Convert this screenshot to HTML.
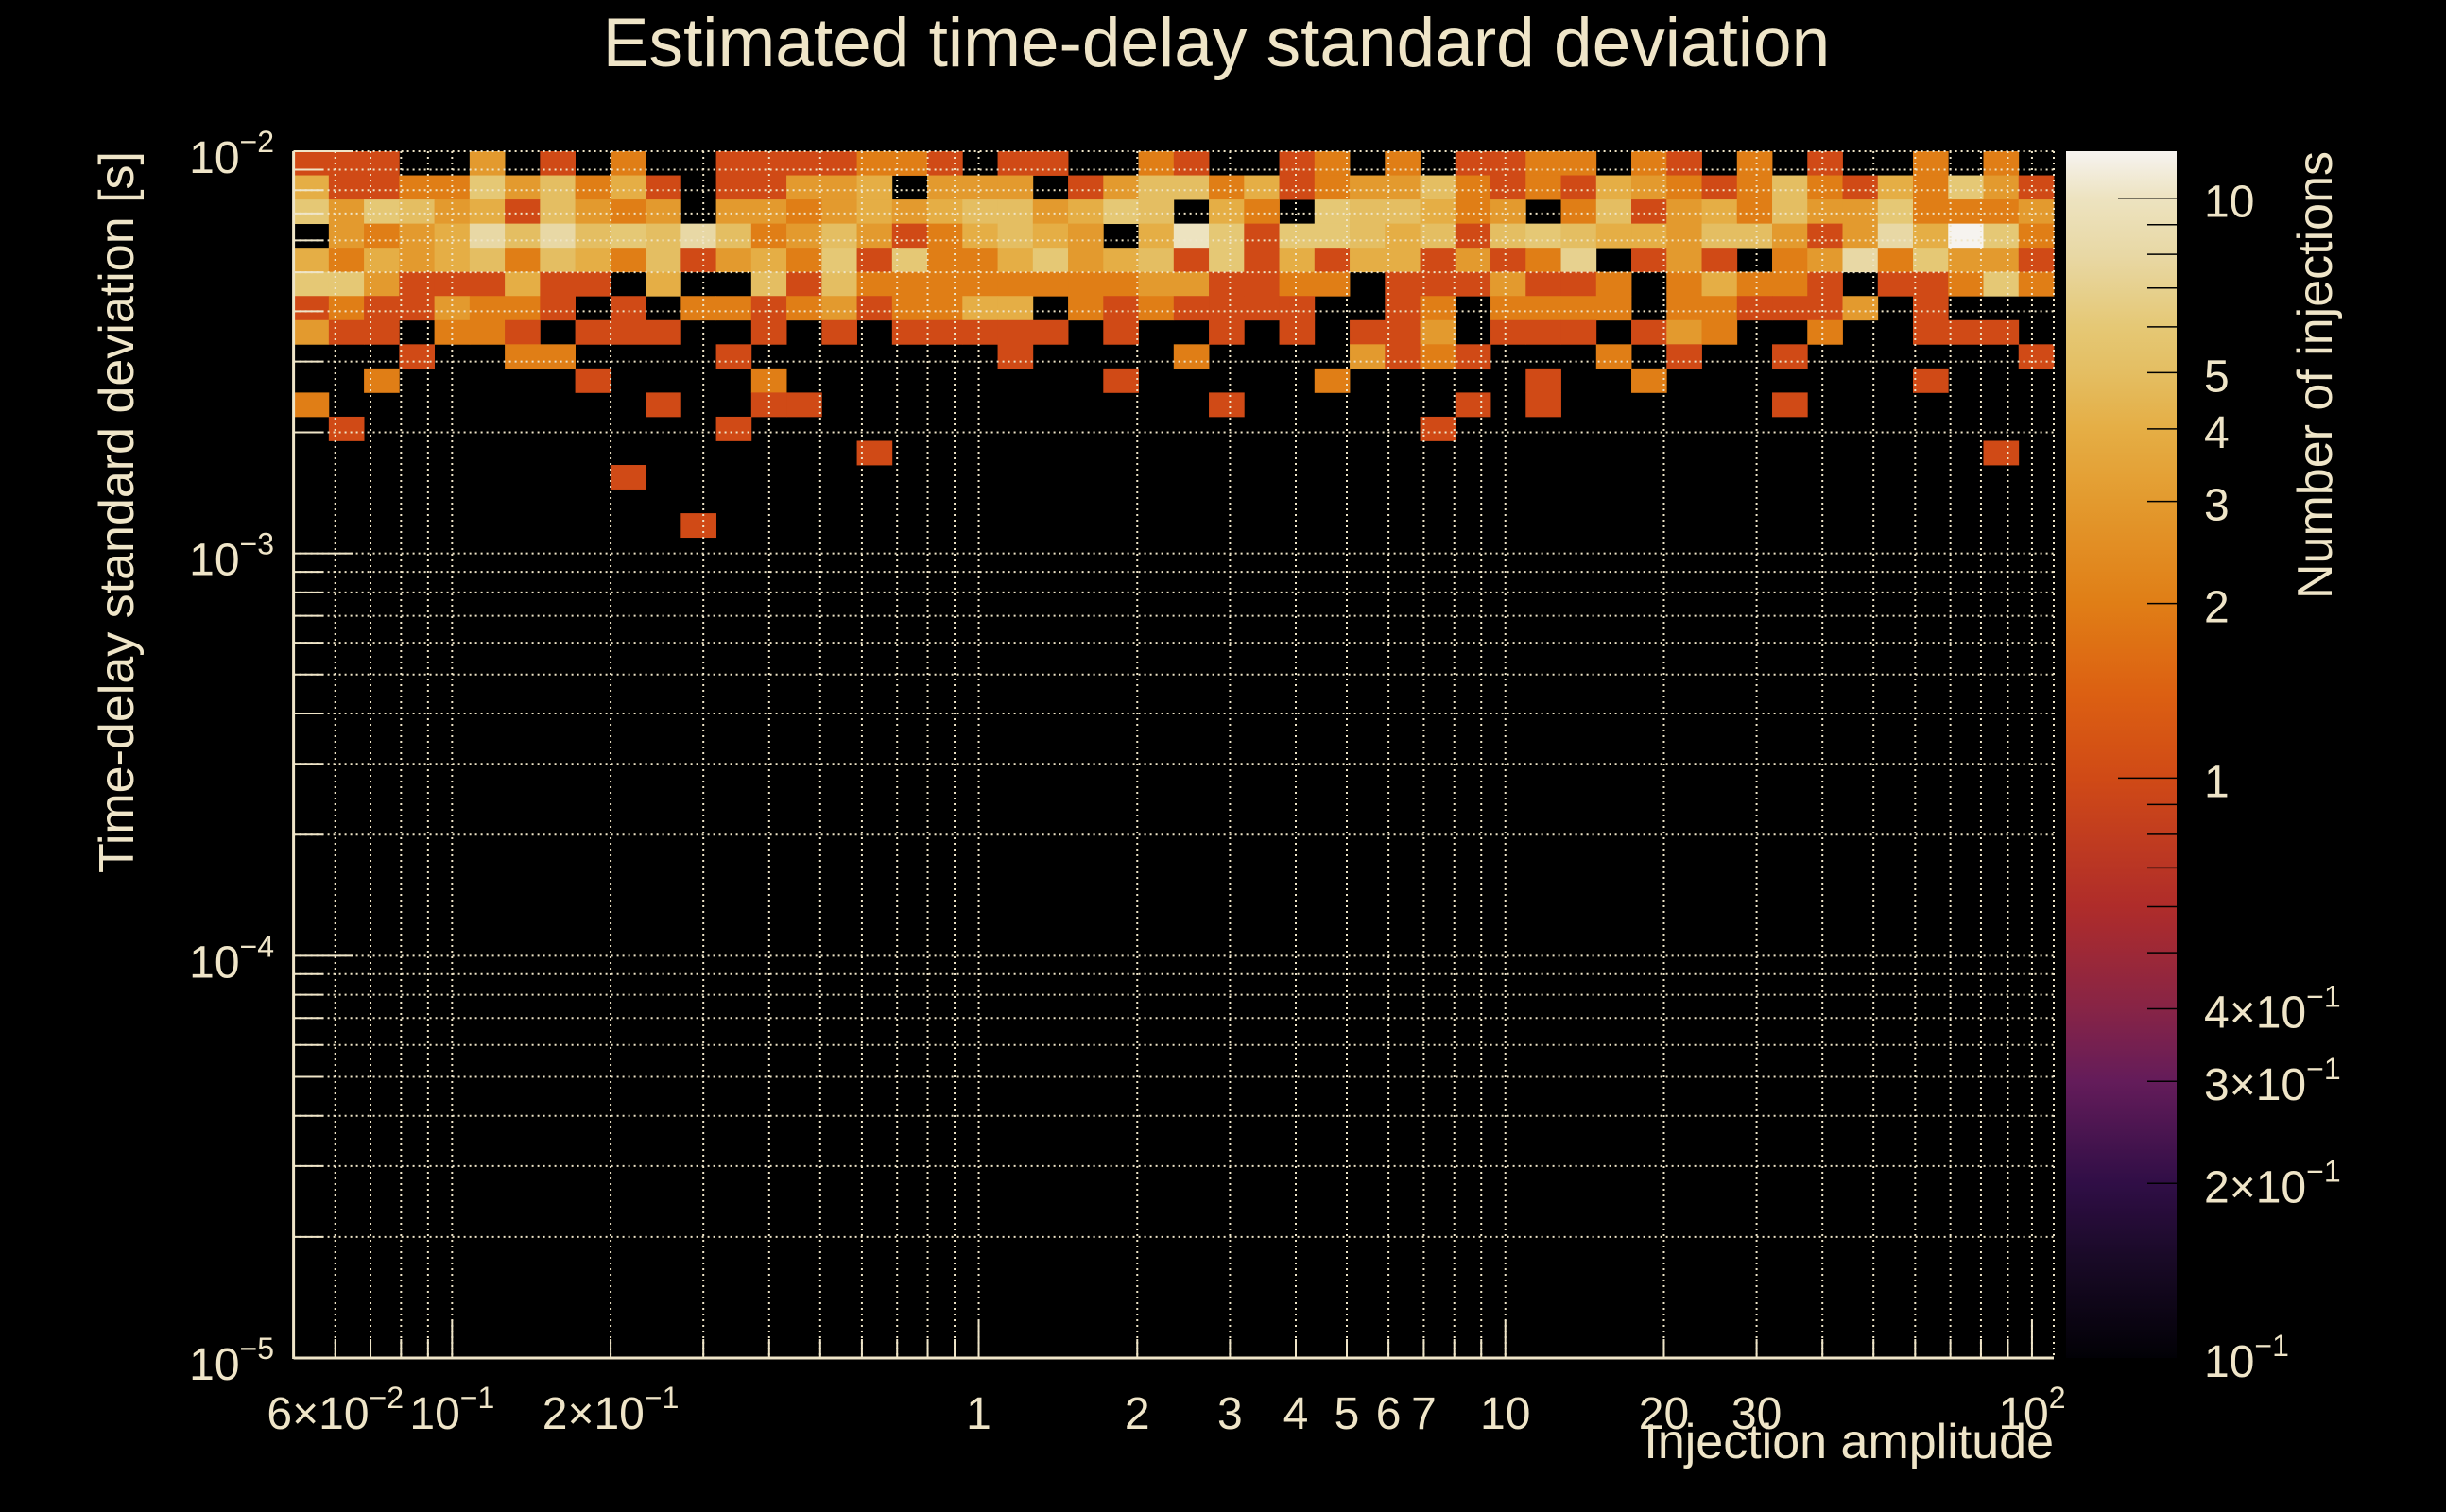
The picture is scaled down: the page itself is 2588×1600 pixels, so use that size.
<!DOCTYPE html>
<html><head><meta charset="utf-8">
<style>
html,body{margin:0;padding:0;background:#000;}
svg{display:block;}
text{font-family:"Liberation Sans",sans-serif;fill:#efe5c8;}
</style></head>
<body>
<svg id="chart" width="2588" height="1600" viewBox="0 0 2588 1600" xmlns="http://www.w3.org/2000/svg">
<rect x="0" y="0" width="2588" height="1600" fill="#000"/>
<text x="1287" y="70" font-size="73" text-anchor="middle">Estimated time-delay standard deviation</text>
<text transform="translate(141,160) rotate(-90)" font-size="52" text-anchor="end">Time-delay standard deviation [s]</text>
<text x="2173" y="1543" font-size="52" text-anchor="end">Injection amplitude</text>
<text transform="translate(2467,160) rotate(-90)" font-size="52" text-anchor="end">Number of injections</text>
<g id="cells"></g>
<g id="grid"></g>
<g id="axes"></g>
<g id="cbar"></g>
</svg>
<script>
// ---- data ----
const xRange = [0.05, 110];      // injection amplitude (log axis)
const yRange = [1e-5, 1e-2];     // time-delay std (log axis)
const zRange = [0.1, 12.05];     // colour scale
const nXBins = 50;
const nYBins = 50;
// rows listed from the top-most y bin downward (row 0 = highest bin)
const row0  = [1,1,1,0,0,3,0,1,0,2,0,0,1,1,1,1,2,2,1,0,1,1,0,0,2,1,0,0,1,2,0,2,0,1,1,2,2,0,2,1,0,2,0,1,0,0,2,0,2,0];
const row1  = [4,1,1,2,2,6,3,5,2,4,1,0,1,1,3,3,4,0,3,3,3,0,1,3,5,5,2,4,1,2,3,3,5,2,1,2,1,4,3,2,1,2,5,2,1,4,2,6,3,1];
const row2  = [6,3,6,5,3,4,1,5,3,2,3,0,3,3,2,3,4,3,4,5,5,3,4,6,5,0,4,2,0,6,5,5,4,2,3,0,2,5,1,3,4,2,5,3,3,6,2,2,2,3];
const row3  = [0,3,2,3,4,8,5,8,5,6,5,8,5,2,3,5,3,1,2,4,5,4,3,0,4,10,6,1,6,6,5,4,5,1,5,6,5,4,4,3,5,5,3,1,3,8,4,12,6,2];
const row4  = [4,2,4,3,4,5,2,5,4,2,5,1,3,4,2,6,1,6,2,2,4,6,3,4,5,1,6,1,4,1,4,4,1,3,1,2,7,0,1,3,1,0,2,3,8,2,6,3,3,1];
const row5  = [6,6,3,1,1,1,4,1,1,0,4,0,0,5,1,5,2,2,2,2,2,2,2,2,3,3,1,1,2,2,0,1,1,1,3,1,1,2,0,2,4,2,2,1,0,1,1,2,6,2];
const row6  = [1,2,1,1,3,2,2,1,0,1,0,2,2,1,2,3,1,2,2,4,4,0,2,1,2,1,1,1,1,0,0,1,2,0,2,2,2,2,0,2,2,1,1,1,3,0,1,0,0,0];
const row7  = [3,1,1,0,2,2,1,0,1,1,1,0,0,1,0,1,0,1,1,1,1,1,0,1,0,0,1,0,1,0,1,1,3,0,1,1,1,0,1,3,2,0,0,2,0,0,1,1,1,0];
const row8  = [0,0,0,1,0,0,2,2,0,0,0,0,1,0,0,0,0,0,0,0,1,0,0,0,0,2,0,0,0,0,3,1,2,1,0,0,0,2,0,1,0,0,1,0,0,0,0,0,0,1];
const row9  = [0,0,2,0,0,0,0,0,1,0,0,0,0,2,0,0,0,0,0,0,0,0,0,1,0,0,0,0,0,2,0,0,0,0,0,1,0,0,2,0,0,0,0,0,0,0,1,0,0,0];
const row10 = [2,0,0,0,0,0,0,0,0,0,1,0,0,1,1,0,0,0,0,0,0,0,0,0,0,0,1,0,0,0,0,0,0,1,0,1,0,0,0,0,0,0,1,0,0,0,0,0,0,0];
const row11 = [0,1,0,0,0,0,0,0,0,0,0,0,1,0,0,0,0,0,0,0,0,0,0,0,0,0,0,0,0,0,0,0,1,0,0,0,0,0,0,0,0,0,0,0,0,0,0,0,0,0];
const row12 = [0,0,0,0,0,0,0,0,0,0,0,0,0,0,0,0,1,0,0,0,0,0,0,0,0,0,0,0,0,0,0,0,0,0,0,0,0,0,0,0,0,0,0,0,0,0,0,0,1,0];
const row13 = [0,0,0,0,0,0,0,0,0,1,0,0,0,0,0,0,0,0,0,0,0,0,0,0,0,0,0,0,0,0,0,0,0,0,0,0,0,0,0,0,0,0,0,0,0,0,0,0,0,0];
const row14 = [0,0,0,0,0,0,0,0,0,0,0,0,0,0,0,0,0,0,0,0,0,0,0,0,0,0,0,0,0,0,0,0,0,0,0,0,0,0,0,0,0,0,0,0,0,0,0,0,0,0];
const row15 = [0,0,0,0,0,0,0,0,0,0,0,1,0,0,0,0,0,0,0,0,0,0,0,0,0,0,0,0,0,0,0,0,0,0,0,0,0,0,0,0,0,0,0,0,0,0,0,0,0,0];
const rows = [row0,row1,row2,row3,row4,row5,row6,row7,row8,row9,row10,row11,row12,row13,row14,row15];
const xTickLabels = [[0.06,"6×10","−2"],[0.1,"10","−1"],[0.2,"2×10","−1"],[1,"1",""],[2,"2",""],[3,"3",""],[4,"4",""],[5,"5",""],[6,"6",""],[7,"7",""],[10,"10",""],[20,"20",""],[30,"30",""],[100,"10","2"]];
const yTickLabels = [[1e-2,"−2"],[1e-3,"−3"],[1e-4,"−4"],[1e-5,"−5"]];
const zTickLabels = [[10,"10",""],[5,"5",""],[4,"4",""],[3,"3",""],[2,"2",""],[1,"1",""],[0.4,"4×10","−1"],[0.3,"3×10","−1"],[0.2,"2×10","−1"],[0.1,"10","−1"]];

// ---- geometry ----
const PL=310.6, PR=2173, PT=160, PB=1437;
const CBL=2186, CBR=2303;
const NS="http://www.w3.org/2000/svg";
const L=Math.log10;
function xs(v){return PL+(L(v)-L(xRange[0]))/(L(xRange[1])-L(xRange[0]))*(PR-PL);}
function ys(v){return PB-(L(v)-L(yRange[0]))/(L(yRange[1])-L(yRange[0]))*(PB-PT);}
function zs(v){return PB-(L(v)-L(zRange[0]))/(L(zRange[1])-L(zRange[0]))*(PB-PT);}
const stops=[[0.1,[2,1,6]],[0.15,[26,10,40]],[0.2,[48,14,70]],[0.3,[100,28,90]],[0.4,[135,36,70]],[0.6,[175,44,42]],[1,[208,74,22]],[1.4,[220,96,18]],[2,[224,126,22]],[3,[227,154,46]],[4,[229,174,69]],[5,[228,190,98]],[6,[229,200,117]],[8,[232,216,165]],[10,[237,227,192]],[12.05,[246,243,240]]];
function col(v){
  if(v<=stops[0][0])return 'rgb(2,1,6)';
  for(let i=1;i<stops.length;i++){
    if(v<=stops[i][0]){
      const a=stops[i-1],b=stops[i];
      const t=(L(v)-L(a[0]))/(L(b[0])-L(a[0]));
      const c=a[1].map((q,k)=>Math.round(q+(b[1][k]-q)*t));
      return 'rgb('+c.join(',')+')';
    }
  }
  return 'rgb(246,243,240)';
}
function mk(tag,attrs,parent){const e=document.createElementNS(NS,tag);for(const k in attrs)e.setAttribute(k,attrs[k]);parent.appendChild(e);return e;}

// ---- cells ----
const gC=document.getElementById('cells');
const lx0=L(xRange[0]), dlx=(L(xRange[1])-lx0)/nXBins;
const ly0=L(yRange[0]), dly=(L(yRange[1])-ly0)/nYBins;
rows.forEach((r,ri)=>{
  const yb=nYBins-1-ri;
  const yLo=Math.pow(10,ly0+yb*dly), yHi=Math.pow(10,ly0+(yb+1)*dly);
  r.forEach((v,ci)=>{
    if(v<=0)return;
    const xLo=Math.pow(10,lx0+ci*dlx), xHi=Math.pow(10,lx0+(ci+1)*dlx);
    const x1=xs(xLo),x2=xs(xHi),y1=ys(yHi),y2=ys(yLo);
    const e=mk('rect',{x:x1.toFixed(2),y:y1.toFixed(2),width:(x2-x1+0.4).toFixed(2),height:(y2-y1+0.4).toFixed(2),fill:col(v)},gC);
    
    
  });
});

// ---- grid ----
const gG=document.getElementById('grid');
const gridStyle={stroke:'#efe5c8','stroke-width':2,'stroke-dasharray':'2 4'};
for(let d=-2;d<=2;d++){for(let m=1;m<=9;m++){
  const v=m*Math.pow(10,d); if(v<=xRange[0]||v>=xRange[1])continue;
  const x=xs(v);
  const e=mk('line',Object.assign({x1:x,x2:x,y1:PT,y2:PB},gridStyle),gG);
  
  
}}
for(let d=-5;d<=-2;d++){for(let m=1;m<=9;m++){
  const v=m*Math.pow(10,d); if(v<yRange[0]||v>yRange[1])continue;
  const y=ys(v);
  const e=mk('line',Object.assign({x1:PL,x2:PR,y1:y,y2:y},gridStyle),gG);
  
  
}}
mk('line',Object.assign({x1:PR,x2:PR,y1:PT,y2:PB},gridStyle),gG);

// ---- axes ----
const gA=document.getElementById('axes');
mk('line',{x1:PL,x2:PL,y1:PT,y2:PB+1,stroke:'#efe5c8','stroke-width':3},gA);
mk('line',{x1:PL,x2:PR,y1:PB,y2:PB,stroke:'#efe5c8','stroke-width':3},gA);
for(let d=-5;d<=-2;d++){for(let m=1;m<=9;m++){
  const v=m*Math.pow(10,d); if(v<yRange[0]||v>yRange[1])continue;
  const y=ys(v);
  mk('line',{x1:PL,x2:PL+(m===1?63:31),y1:y,y2:y,stroke:'#efe5c8','stroke-width':2},gA);
}}
for(let d=-2;d<=2;d++){for(let m=1;m<=9;m++){
  const v=m*Math.pow(10,d); if(v<=xRange[0]||v>=xRange[1])continue;
  const x=xs(v);
  mk('line',{x1:x,x2:x,y1:PB,y2:PB-(m===1?40:20),stroke:'#efe5c8','stroke-width':2},gA);
}}
xTickLabels.forEach(t=>{
  const tx=mk('text',{x:xs(t[0]),y:1512,'font-size':48,'text-anchor':'middle'},gA);
  
  
  tx.textContent=t[1];
  if(t[2]){const s=mk('tspan',{'font-size':32,dy:-22},tx);s.textContent=t[2];}
});
yTickLabels.forEach(t=>{
  const tx=mk('text',{x:290,y:ys(t[0])+23,'font-size':48,'text-anchor':'end'},gA);
  
  
  tx.textContent='10';
  const s=mk('tspan',{'font-size':32,dy:-22},tx);s.textContent=t[1];
});

// ---- colorbar ----
const gB=document.getElementById('cbar');
const defs=mk('defs',{},gB);
const grad=mk('linearGradient',{id:'cg',x1:0,y1:1,x2:0,y2:0},defs);
stops.forEach(s=>{
  const off=(L(s[0])-L(zRange[0]))/(L(zRange[1])-L(zRange[0]));
  mk('stop',{offset:off.toFixed(4),'stop-color':'rgb('+s[1].join(',')+')'},grad);
});
const cb=mk('rect',{x:CBL,y:PT,width:CBR-CBL,height:PB-PT,fill:'url(#cg)'},gB);


for(let d=-1;d<=1;d++){for(let m=1;m<=9;m++){
  const v=m*Math.pow(10,d); if(v<=zRange[0]||v>zRange[1])continue;
  const y=zs(v);
  mk('line',{x1:CBR-(m===1?62:31),x2:CBR,y1:y,y2:y,stroke:'#000','stroke-width':1.5},gB);
}}
zTickLabels.forEach(t=>{
  const tx=mk('text',{x:2332,y:zs(t[0])+20,'font-size':48,'text-anchor':'start'},gB);
  
  
  tx.textContent=t[1];
  if(t[2]){const s=mk('tspan',{'font-size':32,dy:-22},tx);s.textContent=t[2];}
});
</script>
</body></html>
